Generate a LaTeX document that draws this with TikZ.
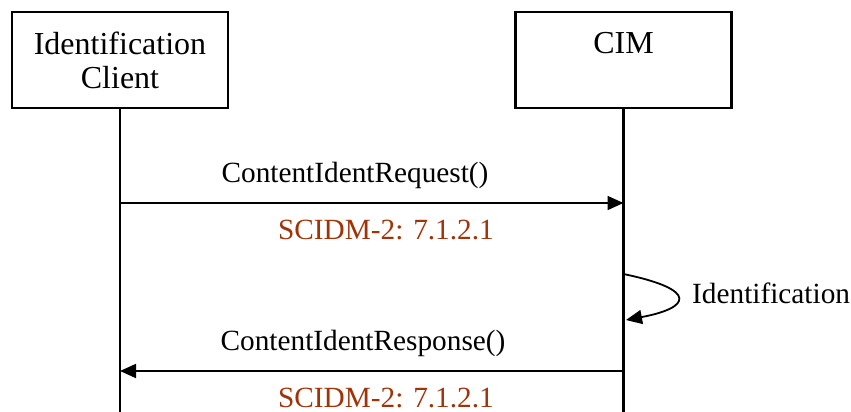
\documentclass[tikz,border=0pt]{standalone}
\usepackage{fontspec}
\setmainfont{Liberation Serif}
\usetikzlibrary{arrows.meta}
\definecolor{refred}{RGB}{160,52,8}
\begin{document}
\begin{tikzpicture}[x=1pt,y=-1pt,
    actor/.style={draw,line width=2.5pt,minimum width=216pt,minimum height=96pt,align=center,inner sep=0pt,font=\fontsize{32}{34}\selectfont},
    life/.style={line width=2.5pt},
    msg/.style={line width=1.8pt,-{Triangle[length=16pt,width=14pt]}},
    lbl/.style={font=\fontsize{29.3}{32}\selectfont,inner sep=0pt},
    ref/.style={lbl,text=refred}]
    \useasboundingbox (0,0) rectangle (851,412);
    \node[actor] (client) at (120,60) {Identification\\Client};
    \node[actor] (cim) at (623.5,60) {CIM\\\phantom{Client}};
    \coordinate (bot) at (0,412);
    \foreach \n in {client,cim} \draw[life] (\n.south) -- (\n.south |- bot);
    % request
    \coordinate (req0) at (120,203); \coordinate (req1) at (623.5,203);
    \draw[msg] (req0) -- (req1);
    \node[lbl,anchor=base] (reqlbl) at (355,182) {ContentIdentRequest()};
    \node[ref,anchor=base] (reqref) at (386,239) {SCIDM-2: 7.1.2.1};
    % self call
    \coordinate (self0) at (623.5,274); \coordinate (self1) at (626,320);
    \draw[msg] (self0) .. controls (700,290) and (690,308) .. (self1);
    \node[lbl,anchor=base west] (selflbl) at (692,303) {Identification};
    % response
    \coordinate (rsp0) at (623.5,371); \coordinate (rsp1) at (120,371);
    \draw[msg] (rsp0) -- (rsp1);
    \node[lbl,anchor=base] (rsplbl) at (363,350) {ContentIdentResponse()};
    \node[ref,anchor=base] (rspref) at (386,407) {SCIDM-2: 7.1.2.1};
\end{tikzpicture}
\end{document}
